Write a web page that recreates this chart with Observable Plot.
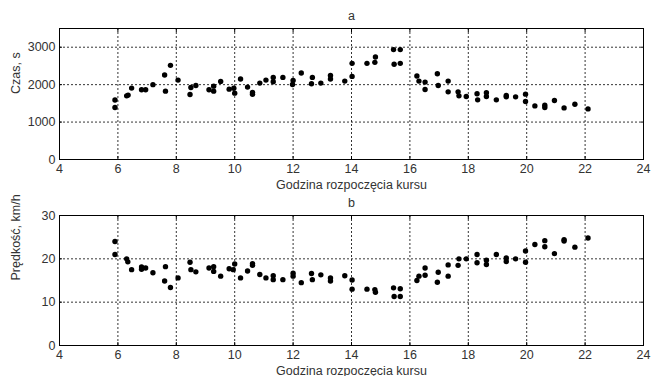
<!DOCTYPE html>
<html>
<head>
<meta charset="utf-8">
<script src="https://cdn.jsdelivr.net/npm/d3@7"></script>
<script src="https://cdn.jsdelivr.net/npm/@observablehq/plot@0.6"></script>
<style>
  html, body { margin: 0; padding: 0; background: #fff; }
  #chart svg { display: block; }
</style>
</head>
<body>
<div id="chart"></div>
<script>
// Panel a: czas przejazdu (s) vs godzina rozpoczęcia kursu
const hoursA = [5.9, 5.9, 6.3, 6.35, 6.47, 6.81, 6.95, 7.2, 7.6, 7.63, 7.8, 8.06, 8.47, 8.5, 8.67, 9.12, 9.28, 9.28, 9.52, 9.81, 9.97, 10.0, 10.2, 10.44, 10.61, 10.61, 10.86, 11.07, 11.32, 11.32, 11.65, 11.98, 12.0, 12.28, 12.63, 12.66, 12.95, 13.28, 13.28, 13.77, 14.02, 14.02, 14.53, 14.8, 14.82, 15.44, 15.46, 15.67, 15.67, 16.24, 16.31, 16.52, 16.52, 16.94, 16.97, 17.31, 17.31, 17.65, 17.68, 17.93, 18.3, 18.32, 18.62, 18.62, 18.96, 19.3, 19.3, 19.62, 19.96, 19.96, 20.28, 20.62, 20.62, 20.95, 21.28, 21.65, 22.1];
const czas = [1590, 1390, 1700, 1720, 1907, 1862, 1865, 2000, 2256, 1826, 2516, 2122, 1737, 1925, 1979, 1862, 1960, 1826, 2086, 1880, 1905, 1773, 2149, 1934, 1790, 1745, 2041, 2122, 2193, 2077, 2193, 2005, 2113, 2310, 2023, 2193, 2041, 2247, 2149, 2095, 2569, 2220, 2569, 2596, 2740, 2936, 2543, 2936, 2569, 2229, 2095, 2068, 1871, 2292, 1979, 2095, 1808, 1808, 1701, 1683, 1755, 1594, 1782, 1683, 1594, 1710, 1674, 1674, 1746, 1549, 1432, 1450, 1388, 1576, 1379, 1477, 1352];

// Panel b: prędkość (km/h) vs godzina rozpoczęcia kursu
const hoursB = [5.9, 5.9, 6.3, 6.34, 6.47, 6.81, 6.81, 6.95, 7.2, 7.6, 7.63, 7.8, 8.06, 8.47, 8.5, 8.67, 9.12, 9.28, 9.28, 9.52, 9.81, 9.95, 10.0, 10.2, 10.44, 10.61, 10.61, 10.86, 11.07, 11.32, 11.32, 11.65, 12.0, 12.0, 12.28, 12.63, 12.66, 12.95, 13.28, 13.28, 13.77, 14.02, 14.02, 14.53, 14.8, 14.82, 15.44, 15.46, 15.67, 15.67, 16.24, 16.31, 16.52, 16.52, 16.94, 16.97, 17.31, 17.31, 17.65, 17.68, 17.93, 18.3, 18.3, 18.62, 18.62, 18.96, 19.3, 19.3, 19.62, 19.96, 19.96, 20.28, 20.62, 20.62, 20.95, 21.28, 21.28, 21.65, 22.1];
const predkosc = [24.0, 21.0, 20.0, 19.3, 17.5, 18.1, 17.6, 17.9, 16.8, 14.9, 18.2, 13.4, 15.6, 19.2, 17.5, 17.0, 17.9, 18.2, 17.1, 16.0, 17.7, 17.5, 18.8, 15.6, 17.2, 18.9, 18.5, 16.4, 15.6, 16.1, 15.2, 15.2, 16.7, 16.0, 14.5, 16.6, 15.2, 16.3, 15.6, 14.9, 16.1, 15.1, 13.0, 13.0, 12.9, 12.3, 13.3, 11.3, 13.1, 11.3, 15.0, 16.0, 17.9, 16.2, 14.6, 16.9, 18.6, 16.0, 18.5, 20.0, 20.0, 21.0, 19.1, 19.7, 18.7, 21.0, 20.2, 19.4, 20.0, 21.8, 19.2, 23.3, 24.2, 22.8, 21.2, 24.4, 24.1, 22.7, 24.8];

const xTicks = [4, 6, 8, 10, 12, 14, 16, 18, 20, 22, 24];
const xGrid = [6, 8, 10, 12, 14, 16, 18, 20, 22];
const yTicksA = [0, 1000, 2000, 3000];
const yGridA = [1000, 2000, 3000];
const yTicksB = [0, 10, 20, 30];
const yGridB = [10, 20];
const xLabel = "Godzina rozpoczęcia kursu";

const textColor = "#333";
const style = {fontFamily: "'Liberation Sans', Arial, sans-serif", fontSize: "12.5px", color: textColor, background: "#fff", overflow: "visible"};

function panel({xs, ys, yDomain, yTicks, yGrid, title, yLabel, height, marginTop, marginBottom}) {
  const data = xs.map((x, i) => ({x, y: ys[i]}));
  return Plot.plot({
    width: 651,
    height,
    marginTop,
    marginBottom,
    marginLeft: 59,
    marginRight: 8,
    style,
    x: {domain: [4, 24]},
    y: {domain: yDomain},
    marks: [
      Plot.gridX(xGrid, {stroke: "#000", strokeOpacity: 1, strokeWidth: 0.8, strokeDasharray: "2,2"}),
      Plot.gridY(yGrid, {stroke: "#000", strokeOpacity: 1, strokeWidth: 0.8, strokeDasharray: "2,2"}),
      Plot.axisX({ticks: xTicks, tickSize: 0, tickPadding: 5, tickFormat: d => String(d), label: null, fill: textColor}),
      Plot.axisY({ticks: yTicks, tickSize: 0, tickPadding: 4, tickFormat: d => String(d), label: null, fill: textColor}),
      Plot.axisX({ticks: xTicks, tickSize: -3, text: null, label: null, stroke: "#000"}),
      Plot.axisX({anchor: "top", ticks: xTicks, tickSize: -3, text: null, label: null, stroke: "#000"}),
      Plot.axisY({ticks: yTicks, tickSize: -3, text: null, label: null, stroke: "#000"}),
      Plot.axisY({anchor: "right", ticks: yTicks, tickSize: -3, text: null, label: null, stroke: "#000"}),
      Plot.frame({stroke: "#000", strokeWidth: 1}),
      Plot.dot(data, {x: "x", y: "y", r: 2.7, fill: "#000", stroke: "none"}),
      Plot.text([title], {frameAnchor: "top", lineAnchor: "middle", dy: -13, fill: textColor, fontSize: 12.5}),
      Plot.text([xLabel], {frameAnchor: "bottom", lineAnchor: "middle", dy: 25, fill: textColor, fontSize: 12.5}),
      Plot.text([yLabel], {frameAnchor: "left", lineAnchor: "middle", rotate: -90, dx: -44, fill: textColor, fontSize: 12.5})
    ]
  });
}

const chart = document.getElementById("chart");
chart.append(panel({xs: hoursA, ys: czas, yDomain: [0, 3500], yTicks: yTicksA, yGrid: yGridA, title: "a", yLabel: "Czas, s", height: 190, marginTop: 28, marginBottom: 31}));
chart.append(panel({xs: hoursB, ys: predkosc, yDomain: [0, 30], yTicks: yTicksB, yGrid: yGridB, title: "b", yLabel: "Prędkość, km/h", height: 186, marginTop: 25, marginBottom: 31}));
</script>
</body>
</html>
